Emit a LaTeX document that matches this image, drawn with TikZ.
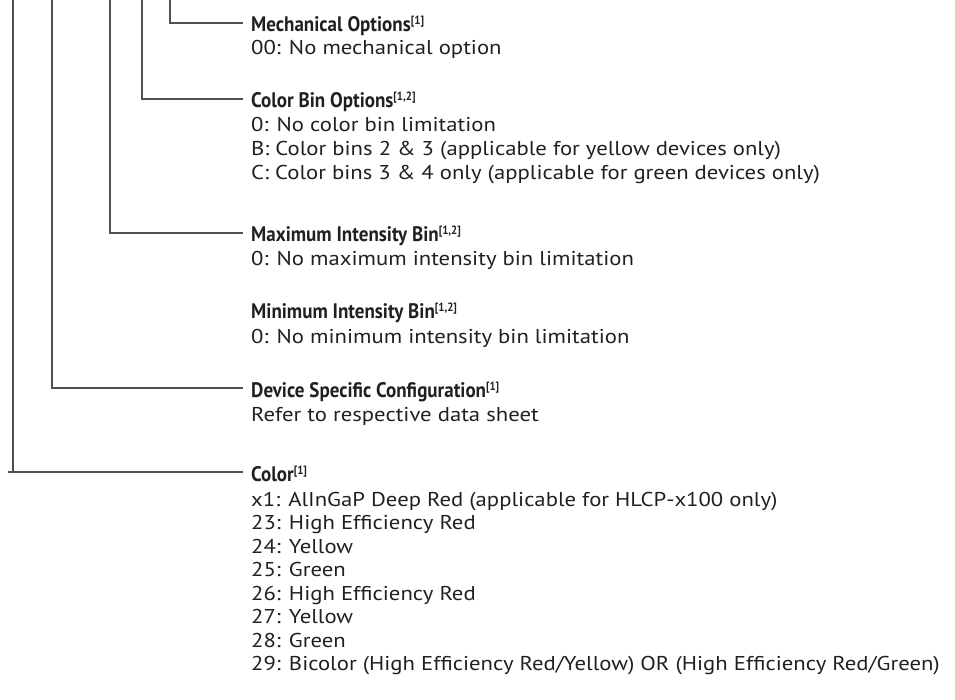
\documentclass[tikz,border=0pt]{standalone}
\usepackage{fontspec}
\setmainfont[FakeStretch=1.135]{PT Sans}
\newfontfamily\hdfont[FakeStretch=0.905]{PT Sans}
\definecolor{ink}{HTML}{231F20}
\definecolor{wire}{HTML}{505050}
\newcommand{\refmark}[1]{\raisebox{7pt}{\fontsize{12}{12}\selectfont[#1]}}
\begin{document}
\begin{tikzpicture}[x=1pt,y=-1pt,
  hd/.style={anchor=base west, inner sep=0pt, text=ink, font=\hdfont\bfseries\fontsize{21}{23}\selectfont},
  bd/.style={anchor=base west, inner sep=0pt, text=ink, font=\fontsize{20}{23.5}\selectfont},
  wireline/.style={draw=wire, line width=1.3pt},
  toleft/.style={xshift=-8pt, yshift=9pt}]
\useasboundingbox (0,0) rectangle (955,700);
% tops of the vertical lines
\coordinate (t1) at (13,-3);
\coordinate (t2) at (52,-3);
\coordinate (t3) at (110,-3);
\coordinate (t4) at (142,-3);
\coordinate (t5) at (170,-3);
\coordinate (lft) at (8,472);
% headers
\node[hd] (mech) at (251,32) {Mechanical Options\refmark{1}};
\node[hd] (cbin) at (251,108) {Color Bin Options\refmark{1,2}};
\node[hd] (maxi) at (251,242) {Maximum Intensity Bin\refmark{1,2}};
\node[hd] (mini) at (251,319) {Minimum Intensity Bin\refmark{1,2}};
\node[hd] (dev) at (251,397) {Device Specific Configuration\refmark{1}};
\node[hd] (col) at (251,481) {Color\refmark{1}};
% bodies
\node[bd] (mech1) at (251,55) {00: No mechanical option};
\node[bd] (cbin1) at (251,132) {0: No color bin limitation};
\node[bd] (cbin2) at (251,156) {B: Color bins 2 \& 3 (applicable for yellow devices only)};
\node[bd] (cbin3) at (251,180) {C: Color bins 3 \& 4 only (applicable for green devices only)};
\node[bd] (maxi1) at (251,266) {0: No maximum intensity bin limitation};
\node[bd] (mini1) at (251,343) {0: No minimum intensity bin limitation};
\node[bd] (dev1) at (251,421) {Refer to respective data sheet};
\node[bd] (c1) at (251,506) {x1: AlInGaP Deep Red (applicable for HLCP-x100 only)};
\node[bd] (c2) at (251,529.5) {23: High Efficiency Red};
\node[bd] (c3) at (251,553) {24: Yellow};
\node[bd] (c4) at (251,576.5) {25: Green};
\node[bd] (c5) at (251,600) {26: High Efficiency Red};
\node[bd] (c6) at (251,623.5) {27: Yellow};
\node[bd] (c7) at (251,647) {28: Green};
\node[bd] (c8) at (251,670.5) {29: Bicolor (High Efficiency Red/Yellow) OR (High Efficiency Red/Green)};
% connectors
\draw[wireline] (t5) |- ([toleft]mech.base west);
\draw[wireline] (t4) |- ([toleft]cbin.base west);
\draw[wireline] (t3) |- ([toleft]maxi.base west);
\draw[wireline] (t2) |- ([toleft]dev.base west);
\draw[wireline] (t1) -- (t1 |- lft);
\draw[wireline] (lft) -- ([toleft]col.base west);
\end{tikzpicture}
\end{document}
